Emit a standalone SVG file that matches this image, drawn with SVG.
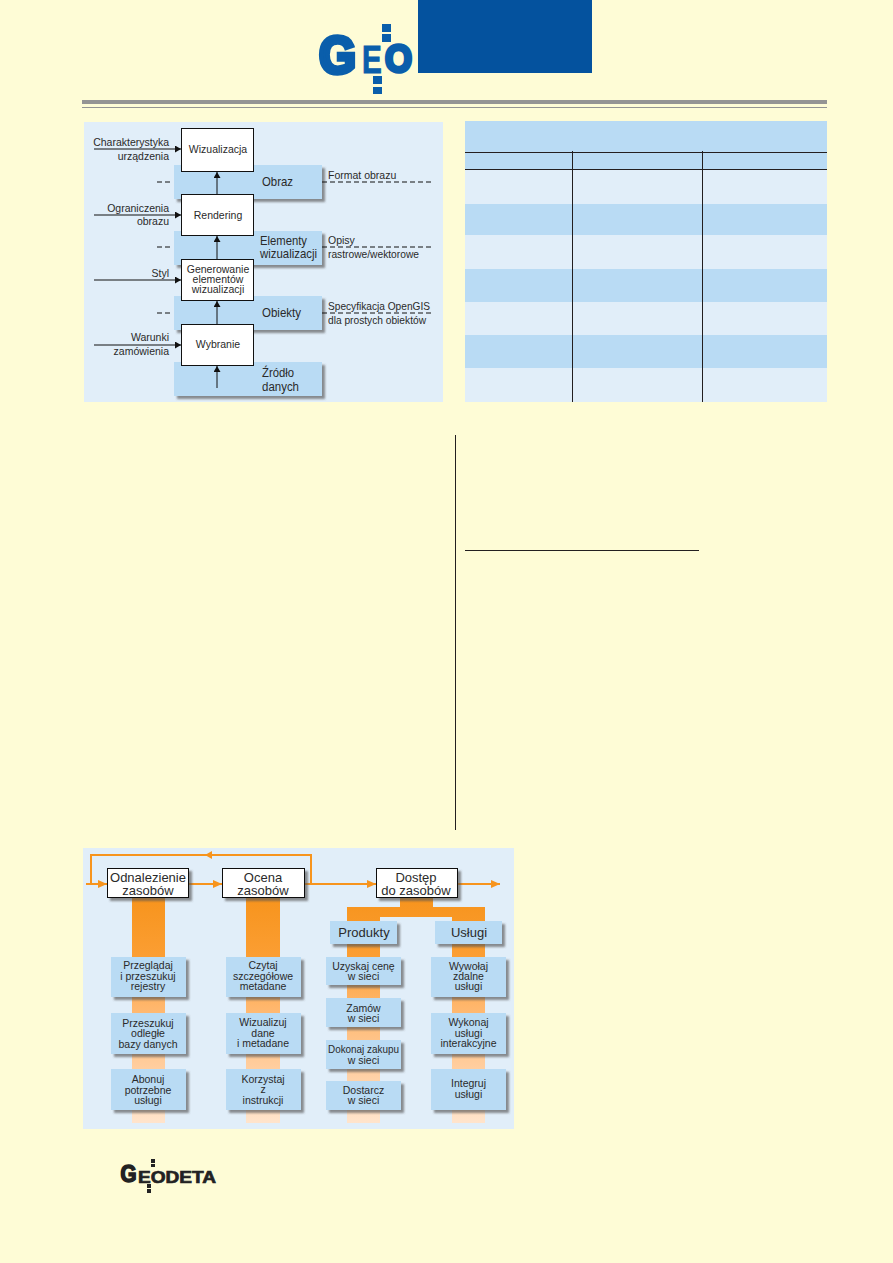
<svg xmlns="http://www.w3.org/2000/svg" width="893" height="1263" viewBox="0 0 893 1263">
<style>
text{font-family:"Liberation Sans",Arial,sans-serif;fill:#2a2a2a}
.s{font-size:10.5px}.m{font-size:13px}.b{font-size:13px}.t{font-size:10.5px}
.c{text-anchor:middle}.e{text-anchor:end}
.wb{fill:#fff;stroke:#111;stroke-width:1}
.bd{fill:#b9dbf4}.lt{fill:#e1eef9}
.sh{filter:url(#shadow)}
.ln{fill:none;stroke:#111;stroke-width:1}
.da{fill:none;stroke:#111;stroke-width:1;stroke-dasharray:5 3}
.or{fill:none;stroke:#f7941d;stroke-width:2}
.grid{stroke:#231f20;stroke-width:1;fill:none}
.logo{fill:#0a5eab;stroke:#0a5eab;font-weight:bold}
.logo2{fill:#222;stroke:#222;font-weight:bold}
.sq{fill:#0a5eab}.sq2{fill:#222}
</style>
<defs>
<filter id="shadow" x="-10%" y="-10%" width="125%" height="130%"><feDropShadow dx="3" dy="3" stdDeviation="1.2" flood-color="#555" flood-opacity="0.65"/></filter>
<linearGradient id="fade" gradientUnits="userSpaceOnUse" x1="0" y1="898" x2="0" y2="1123">
<stop offset="0" stop-color="#f7941d"/><stop offset="0.26" stop-color="#fb9e33"/><stop offset="0.48" stop-color="#ffb66b"/><stop offset="0.72" stop-color="#ffcb99"/><stop offset="1" stop-color="#ffe4cc"/>
</linearGradient>
<marker id="ak" markerUnits="userSpaceOnUse" markerWidth="7" markerHeight="7" refX="6" refY="3.5" orient="auto"><path d="M0 0L6 3.5L0 7Z" fill="#111"/></marker>
<marker id="ao" markerUnits="userSpaceOnUse" markerWidth="10" markerHeight="8" refX="9" refY="4" orient="auto"><path d="M0 0L9 4L0 8Z" fill="#f7941d"/></marker>
</defs>
<rect width="893" height="1263" fill="#fefcd6"/>

<g id="header">
<rect x="418" y="0" width="174" height="73" fill="#04529e"/>
<rect x="82" y="100" width="745" height="4" fill="#949494"/>
<rect x="82" y="107" width="745" height="1" fill="#949494"/>
<text class="logo" x="319" y="73" font-size="52" stroke-width="4.500" textLength="37" lengthAdjust="spacingAndGlyphs">G</text>
<text class="logo" transform="translate(362 73) scale(0.76 1)" font-size="39" stroke-width="1">E</text>
<text class="logo" x="385" y="72" font-size="38" stroke-width="3.500" textLength="27" lengthAdjust="spacingAndGlyphs">O</text>
<rect class="sq" x="382" y="24" width="9" height="8"/><rect class="sq" x="382" y="34" width="9" height="8"/>
<rect class="sq" x="373" y="76" width="9" height="8"/><rect class="sq" x="373" y="87" width="9" height="7"/>
</g>

<rect id="panel-a" x="84" y="122" width="359" height="280" fill="#e1eef9"/>
<g id="band-obraz"><rect class="bd sh" x="174" y="165" width="148" height="34"/><text class="m" x="262" y="186" textLength="31" lengthAdjust="spacingAndGlyphs">Obraz</text></g>
<g id="band-elementy"><rect class="bd sh" x="174" y="231" width="148" height="34"/><text class="m" x="260" y="245" textLength="47" lengthAdjust="spacingAndGlyphs">Elementy</text><text class="m" x="260" y="258" textLength="57" lengthAdjust="spacingAndGlyphs">wizualizacji</text></g>
<g id="band-obiekty"><rect class="bd sh" x="174" y="296" width="148" height="34"/><text class="m" x="262" y="317" textLength="39" lengthAdjust="spacingAndGlyphs">Obiekty</text></g>
<g id="band-zrodlo"><rect class="bd sh" x="174" y="362" width="148" height="34"/><text x="262" y="376.500" font-size="12.500" textLength="32" lengthAdjust="spacingAndGlyphs">Źródło</text><text x="262" y="391" font-size="12.500" textLength="37" lengthAdjust="spacingAndGlyphs">danych</text></g>

<g id="connectors-a">
<path class="ln" marker-end="url(#ak)" d="M94 149H181"/>
<path class="ln" marker-end="url(#ak)" d="M94 215H181"/>
<path class="ln" marker-end="url(#ak)" d="M94 280H181"/>
<path class="ln" marker-end="url(#ak)" d="M94 345H181"/>
<path class="ln" marker-end="url(#ak)" d="M217 194V172"/>
<path class="ln" marker-end="url(#ak)" d="M217 259V236"/>
<path class="ln" marker-end="url(#ak)" d="M217 324V301"/>
<path class="ln" marker-end="url(#ak)" d="M217 388V366"/>
<path class="da" d="M157 182H172M322 182H432M157 247H172M322 247H432M157 313H172M322 313H432"/>
</g>

<g id="wizualizacja"><rect class="wb" x="181.500" y="128.500" width="72" height="43"/><text class="s c" x="218" y="153">Wizualizacja</text></g>
<g id="rendering"><rect class="wb" x="181.500" y="194.500" width="72" height="41"/><text class="s c" x="218" y="219">Rendering</text></g>
<g id="generowanie"><rect class="wb" x="181.500" y="259.500" width="72" height="41"/><text class="t c" x="218" y="273">Generowanie</text><text class="t c" x="218" y="283">elementów</text><text class="t c" x="218" y="293">wizualizacji</text></g>
<g id="wybranie"><rect class="wb" x="181.500" y="324.500" width="72" height="41"/><text class="s c" x="218" y="348">Wybranie</text></g>

<g id="labels-a">
<text class="s e" x="169" y="146">Charakterystyka</text><text class="s e" x="169" y="160">urządzenia</text>
<text class="s e" x="169" y="212">Ograniczenia</text><text class="s e" x="169" y="225">obrazu</text>
<text class="s e" x="169" y="277">Styl</text>
<text class="s e" x="169" y="341">Warunki</text><text class="s e" x="169" y="355">zamówienia</text>
<text class="s" x="328" y="179">Format obrazu</text>
<text class="s" x="328" y="244">Opisy</text><text class="s" x="328" y="258" textLength="91" lengthAdjust="spacingAndGlyphs">rastrowe/wektorowe</text>
<text class="s" x="328" y="310" textLength="102" lengthAdjust="spacingAndGlyphs">Specyfikacja OpenGIS</text><text class="s" x="328" y="324" textLength="98" lengthAdjust="spacingAndGlyphs">dla prostych obiektów</text>
</g>

<g id="table">
<rect class="bd" x="465" y="121" width="362" height="48"/>
<rect class="lt" x="465" y="169" width="362" height="35"/>
<rect class="bd" x="465" y="204" width="362" height="31"/>
<rect class="lt" x="465" y="235" width="362" height="34"/>
<rect class="bd" x="465" y="269" width="362" height="33"/>
<rect class="lt" x="465" y="302" width="362" height="33"/>
<rect class="bd" x="465" y="335" width="362" height="33"/>
<rect class="lt" x="465" y="368" width="362" height="34"/>
<path class="grid" d="M465 152.500H827M465 169.500H827M572.500 151V402M702.500 151V402"/>
</g>

<g id="rules">
<path class="grid" d="M455.500 435V830M465 550.500H699"/>
</g>

<rect id="panel-b" x="83" y="848" width="431" height="281" fill="#e1eef9"/>

<g id="columns">
<rect x="132" y="898" width="33" height="225" fill="url(#fade)"/>
<rect x="246" y="898" width="34" height="225" fill="url(#fade)"/>
<path fill="url(#fade)" d="M400 898H433V907H485V1123H452V917H380V1123H347V907H400Z"/>
</g>

<g id="connectors-b">
<path class="or" d="M91 884V855H311V884"/>
<path d="M212 851V859L205 855Z" fill="#f7941d"/>
<path class="or" marker-end="url(#ao)" d="M86 884H107"/>
<path class="or" marker-end="url(#ao)" d="M189 884H222"/>
<path class="or" marker-end="url(#ao)" d="M305 884H376"/>
<path class="or" marker-end="url(#ao)" d="M457 884H500"/>
</g>

<g id="odnalezienie"><rect class="wb sh" x="107.500" y="868.500" width="81" height="29"/><text class="b c" x="148" y="882" textLength="76" lengthAdjust="spacingAndGlyphs">Odnalezienie</text><text class="b c" x="148" y="895">zasobów</text></g>
<g id="ocena"><rect class="wb sh" x="222.500" y="868.500" width="82" height="29"/><text class="b c" x="263" y="882">Ocena</text><text class="b c" x="263" y="895">zasobów</text></g>
<g id="dostep"><rect class="wb sh" x="376.500" y="868.500" width="81" height="29"/><text class="b c" x="416" y="882">Dostęp</text><text class="b c" x="416" y="895">do zasobów</text></g>

<g id="produkty"><rect class="bd sh" x="330" y="921" width="67" height="23"/><text class="b c" x="364" y="937">Produkty</text></g>
<g id="uslugi"><rect class="bd sh" x="435" y="921" width="67" height="23"/><text class="b c" x="469" y="937">Usługi</text></g>

<g id="przegladaj"><rect class="bd sh" x="111" y="957" width="75" height="40"/><text class="t c" x="148" y="969">Przeglądaj</text><text class="t c" x="148" y="980">i przeszukuj</text><text class="t c" x="148" y="990">rejestry</text></g>
<g id="przeszukuj"><rect class="bd sh" x="111" y="1013" width="75" height="41"/><text class="t c" x="148" y="1027">Przeszukuj</text><text class="t c" x="148" y="1037">odległe</text><text class="t c" x="148" y="1048">bazy danych</text></g>
<g id="abonuj"><rect class="bd sh" x="111" y="1069" width="75" height="41"/><text class="t c" x="148" y="1083">Abonuj</text><text class="t c" x="148" y="1094">potrzebne</text><text class="t c" x="148" y="1104">usługi</text></g>

<g id="czytaj"><rect class="bd sh" x="226" y="957" width="75" height="40"/><text class="t c" x="263" y="969">Czytaj</text><text class="t c" x="263" y="980">szczegółowe</text><text class="t c" x="263" y="990">metadane</text></g>
<g id="wizualizuj"><rect class="bd sh" x="226" y="1013" width="75" height="41"/><text class="t c" x="263" y="1026">Wizualizuj</text><text class="t c" x="263" y="1037">dane</text><text class="t c" x="263" y="1047">i metadane</text></g>
<g id="korzystaj"><rect class="bd sh" x="226" y="1069" width="75" height="41"/><text class="t c" x="263" y="1083">Korzystaj</text><text class="t c" x="263" y="1093">z</text><text class="t c" x="263" y="1104">instrukcji</text></g>

<g id="uzyskaj"><rect class="bd sh" x="326" y="957" width="75" height="28"/><text class="t c" x="363.500" y="970">Uzyskaj cenę</text><text class="t c" x="363.500" y="980">w sieci</text></g>
<g id="zamow"><rect class="bd sh" x="326" y="998" width="75" height="29"/><text class="t c" x="363.500" y="1012">Zamów</text><text class="t c" x="363.500" y="1022">w sieci</text></g>
<g id="dokonaj"><rect class="bd sh" x="326" y="1040" width="75" height="29"/><text class="t c" x="363.500" y="1053" textLength="71" lengthAdjust="spacingAndGlyphs">Dokonaj zakupu</text><text class="t c" x="363.500" y="1064">w sieci</text></g>
<g id="dostarcz"><rect class="bd sh" x="326" y="1081" width="75" height="29"/><text class="t c" x="363.500" y="1094">Dostarcz</text><text class="t c" x="363.500" y="1104">w sieci</text></g>

<g id="wywolaj"><rect class="bd sh" x="431" y="957" width="75" height="40"/><text class="t c" x="468.500" y="970">Wywołaj</text><text class="t c" x="468.500" y="980">zdalne</text><text class="t c" x="468.500" y="990">usługi</text></g>
<g id="wykonaj"><rect class="bd sh" x="431" y="1013" width="75" height="41"/><text class="t c" x="468.500" y="1026">Wykonaj</text><text class="t c" x="468.500" y="1037">usługi</text><text class="t c" x="468.500" y="1047">interakcyjne</text></g>
<g id="integruj"><rect class="bd sh" x="431" y="1069" width="75" height="41"/><text class="t c" x="468.500" y="1087">Integruj</text><text class="t c" x="468.500" y="1098">usługi</text></g>

<g id="footer-logo">
<text class="logo2" x="120.500" y="1181.500" font-size="23" stroke-width="1.600" textLength="16" lengthAdjust="spacingAndGlyphs">G</text>
<text class="logo2" x="138" y="1182.500" font-size="17" stroke-width="0.700" textLength="78" lengthAdjust="spacingAndGlyphs">EODETA</text>
<rect class="sq2" x="151" y="1159" width="4" height="4"/><rect class="sq2" x="151" y="1164" width="4" height="3"/>
<rect class="sq2" x="147" y="1184" width="4" height="4"/><rect class="sq2" x="147" y="1189" width="4" height="4"/>
</g>
</svg>
